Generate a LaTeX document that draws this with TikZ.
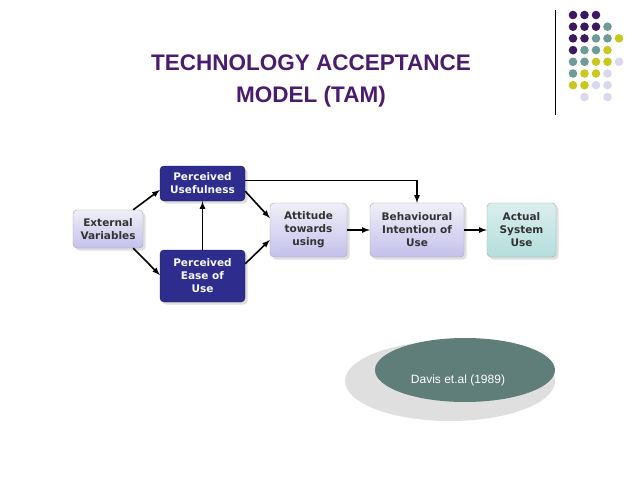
\documentclass[tikz,border=0pt]{standalone}
\usepackage{fontspec}
\setmainfont{Liberation Sans}
\newfontfamily\boxfont{DejaVu Sans}
\usetikzlibrary{shadows}
\definecolor{pp}{HTML}{3B1860}
\definecolor{tl}{HTML}{6E9A98}
\definecolor{yl}{HTML}{C9C81E}
\definecolor{lv}{HTML}{D9D9EC}
\definecolor{ttl}{HTML}{4A1C6B}
\definecolor{dk}{HTML}{2E2C8C}
\definecolor{lb}{HTML}{C4C0EC}
\definecolor{ac}{HTML}{B4DEDC}
\definecolor{el}{HTML}{5F7D79}
\begin{document}
\begin{tikzpicture}[x=1pt,y=-1pt,
  bx/.style={draw=gray!70,rounded corners=4pt,align=center,font=\boxfont\bfseries\fontsize{10.5}{13}\selectfont,drop shadow={opacity=0.25},inner sep=1pt},
  lite/.style={bx,top color=lv!40,bottom color=lb,text=black!80},
  dark/.style={bx,fill=dk,draw=dk!60!black,text=white!90!lb},
  ar/.style={-latex,line width=1.6pt}]
\useasboundingbox (0,0) rectangle (638,479);
\fill[white] (0,0) rectangle (638,479);
\node[font=\bfseries\fontsize{22.5}{32}\selectfont,text=ttl,align=center] (title) at (311,81) {TECHNOLOGY ACCEPTANCE\\MODEL (TAM)};
\draw[line width=0.8pt] (555,10) -- (555,115);
\foreach \r/\cs in {0/{pp,pp,pp},1/{pp,pp,pp,tl},2/{pp,pp,tl,tl,yl},3/{pp,tl,tl,yl},4/{tl,tl,yl,yl,lv},5/{tl,yl,yl,lv},6/{yl,yl,lv,lv}}{
  \foreach \c [count=\i from 0] in \cs { \fill[\c] (573+11.5*\i,15+11.7*\r) circle (4.3pt); }
}
\fill[lv] (584.5,97) circle (4.3pt);
\fill[lv] (607.5,97) circle (4.3pt);
\node[lite,minimum width=70pt,minimum height=38pt] (ev) at (108,229) {External\\Variables};
\node[dark,minimum width=85pt,minimum height=35pt] (pu) at (202.5,183.5) {Perceived\\Usefulness};
\node[dark,minimum width=85pt,minimum height=52pt] (pe) at (202.5,276) {Perceived\\Ease of\\Use};
\node[lite,minimum width=77pt,minimum height=54pt] (at) at (308.5,230) {Attitude\\towards\\using};
\node[lite,minimum width=94pt,minimum height=54pt] (bi) at (417,230) {Behavioural\\Intention of\\Use};
\node[bx,top color=ac!50,bottom color=ac,minimum width=69pt,minimum height=54pt,text=black!80] (au) at (521.5,230) {Actual\\System\\Use};
\draw[ar] (ev.north east) ++(-10,0) -- (pu.west|-0,190);
\draw[ar] (ev.south east) ++(-10,0) -- (pe.west|-0,275);
\draw[ar] (pe.north) -- (pu.south);
\draw[ar] (pu.south east) ++(0,-10) -- ([yshift=12pt]at.west);
\draw[ar] (pe.north east) ++(0,14) -- ([yshift=-10pt]at.west);
\draw[ar] (pu.east) ++(0,-3) -| (bi.north);
\draw[ar] (at) -- (bi);
\draw[ar] (bi) -- (au);
\fill[gray!25] (450,381) ellipse (105pt and 40pt);
\fill[el] (465,370) ellipse (90pt and 32pt);
\node[text=white,font=\fontsize{12}{14}\selectfont] (dv) at (458,380) {Davis et.al (1989)};
\end{tikzpicture}
\end{document}
